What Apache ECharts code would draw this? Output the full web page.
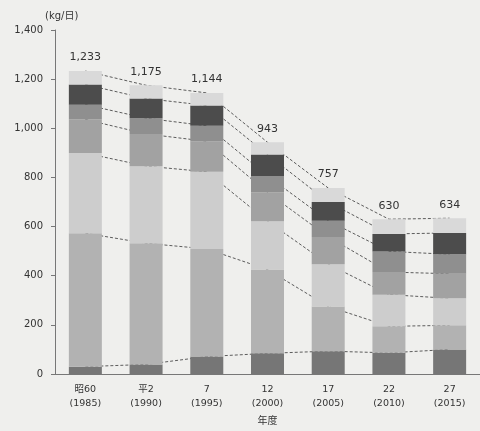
<!DOCTYPE html>
<html><head><meta charset="utf-8">
<script src="https://cdn.jsdelivr.net/npm/echarts@6/dist/echarts.min.js"></script>
<style>html,body{margin:0;padding:0;background:#efefed;}#c{width:480px;height:431px;}</style>
</head><body><div id="c"></div>
<script>
var categories = ['昭60\n(1985)', '平2\n(1990)', '7\n(1995)', '12\n(2000)', '17\n(2005)', '22\n(2010)', '27\n(2015)'];
var seg1 = [30, 39, 71, 84, 93, 86, 100];
var seg2 = [543, 493, 438, 341, 182, 108, 98];
var seg3 = [326, 314, 314, 197, 172, 129, 110];
var seg4 = [137, 131, 124, 117, 111, 92, 100];
var seg5 = [60, 64, 63, 67, 66, 84, 79];
var seg6 = [82, 80, 83, 87, 76, 71, 87];
var seg7 = [55, 54, 51, 50, 57, 60, 60];
var totals = [1233, 1175, 1144, 943, 757, 630, 634];
var yTicks = [0, 200, 400, 600, 800, 1000, 1200, 1400];

var segs = [seg1, seg2, seg3, seg4, seg5, seg6, seg7];
var colors = ['#767676', '#b2b2b2', '#cdcdcd', '#a2a2a2', '#8f8f8f', '#4c4c4c', '#d9d9d9'];
var font = 'DejaVu Sans, Noto Sans CJK JP, sans-serif';

var series = [];
segs.forEach(function (d, i) {
  series.push({
    type: 'line', stack: 'conn', data: d, symbol: 'none', z: 1,
    lineStyle: { color: '#5c5c5c', width: 1, type: [3, 2] },
    silent: true, animation: false
  });
});
segs.forEach(function (d, i) {
  var s = {
    type: 'bar', stack: 'total', data: d, barWidth: 33, z: 3,
    itemStyle: { color: colors[i] }, animation: false
  };
  if (i === segs.length - 1) {
    s.label = {
      show: true, position: 'top', distance: 8, color: '#333', fontSize: 11, fontFamily: font,
      formatter: function (p) { return totals[p.dataIndex].toLocaleString('en-US'); }
    };
  }
  series.push(s);
});

var chart = echarts.init(document.getElementById('c'));
chart.setOption({
  backgroundColor: '#efefed',
  animation: false,
  grid: { left: 55, top: 30, width: 427, height: 347.5, containLabel: false },
  xAxis: {
    type: 'category', data: categories, boundaryGap: true,
    name: '年度', nameLocation: 'middle', nameGap: 42,
    nameTextStyle: { color: '#333', fontSize: 10, fontFamily: font },
    axisLine: { lineStyle: { color: '#777' } },
    axisTick: { length: 3, lineStyle: { color: '#777' } },
    axisLabel: { color: '#333', fontSize: 9.5, fontFamily: font, lineHeight: 14, margin: 9 }
  },
  yAxis: {
    type: 'value', min: yTicks[0], max: yTicks[yTicks.length - 1], interval: 200,
    name: '(kg/日)', nameLocation: 'end', nameGap: 9,
    nameTextStyle: { color: '#333', fontSize: 10, fontFamily: font, align: 'left', padding: [0, 0, 0, -10] },
    axisLine: { show: true, lineStyle: { color: '#777' } },
    axisTick: { show: true, length: 4, lineStyle: { color: '#777' } },
    splitLine: { show: false },
    axisLabel: {
      color: '#333', fontSize: 10, fontFamily: font, margin: 12,
      formatter: function (v) { return v.toLocaleString('en-US'); }
    }
  },
  series: series
});
</script></body></html>
